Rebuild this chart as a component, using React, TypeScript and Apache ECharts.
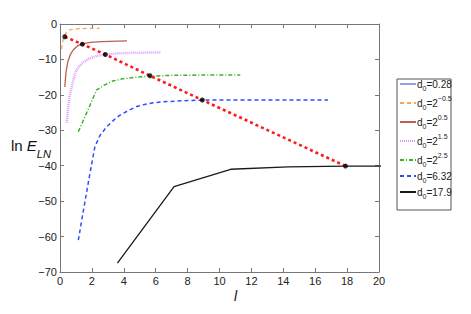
import React, { useEffect, useRef } from "react";
import * as echarts from "echarts";

const xTicks = { min: 0, max: 20, interval: 2 };
const yTicks = { min: -70, max: 0, interval: 10 };

const legendNames = ["0.28", "2^-0.5", "2^0.5", "2^1.5", "2^2.5", "6.32", "17.9"];

const d028: number[][] = [];
const dM05 = [[0.1, -7.1], [0.18, -4.8], [0.3, -3.0], [0.45, -2.1], [0.65, -1.6], [1.0, -1.35], [1.6, -1.25], [2.5, -1.2]];
const d05 = [[0.3, -17.8], [0.38, -13.5], [0.5, -10.5], [0.65, -8.6], [0.85, -7.2], [1.1, -6.2], [1.4, -5.6], [1.9, -5.2], [2.6, -4.95], [4.2, -4.75]];
const d15 = [[0.42, -27.9], [0.5, -24], [0.6, -20.5], [0.72, -18], [0.85, -15.5], [1.0, -13.4], [1.2, -12], [1.45, -10.8], [1.8, -9.8], [2.3, -9.0], [2.9, -8.55], [3.8, -8.25], [4.8, -8.1], [6.3, -8.05]];
const d25 = [[1.15, -30.4], [2.3, -18.6], [2.8, -17.2], [3.3, -16.1], [4.0, -15.4], [4.8, -15.0], [5.66, -14.7], [7.0, -14.5], [9, -14.4], [11.3, -14.4]];
const d632 = [[1.15, -61], [1.5, -51.8], [1.88, -42.1], [2.19, -34.6], [2.5, -31.5], [2.93, -29], [3.35, -27.2], [3.76, -25.7], [4.3, -24.4], [4.81, -23.3], [5.3, -22.7], [5.85, -22.2], [6.7, -21.9], [8.0, -21.6], [9, -21.45], [12, -21.45], [16.8, -21.45]];
const d179 = [[3.6, -67.5], [7.15, -45.9], [10.7, -41.0], [14.3, -40.3], [17.9, -40.1], [21.5, -40.1]];
const optimum = [[0.3, -3.6], [1.4, -5.7], [2.84, -8.6], [5.64, -14.6], [8.92, -21.45], [17.9, -40.1]];

const legendLabels: Record<string, string> = {
  "0.28": "{n|d}{sub|0}{n|=0.28}",
  "2^-0.5": "{n|d}{sub|0}{n|=2}{sup|\u22120.5}",
  "2^0.5": "{n|d}{sub|0}{n|=2}{sup|0.5}",
  "2^1.5": "{n|d}{sub|0}{n|=2}{sup|1.5}",
  "2^2.5": "{n|d}{sub|0}{n|=2}{sup|2.5}",
  "6.32": "{n|d}{sub|0}{n|=6.32}",
  "17.9": "{n|d}{sub|0}{n|=17.9}",
};

const FONT = "Liberation Sans, Arial, sans-serif";
const AXIS = "#777";

export default function App() {
  const ref = useRef<HTMLDivElement>(null);
  useEffect(() => {
    document.body.style.margin = "0";
    if (!ref.current) return;
    const chart = echarts.init(ref.current, null, { renderer: "svg" });
    const line = (name: string, data: number[][], color: string, width: number, type: any, z = 2) => ({
      name,
      type: "line",
      data,
      symbol: "none",
      z,
      lineStyle: { color, width, type },
      itemStyle: { color },
    });
    chart.setOption({
      animation: false,
      backgroundColor: "#fff",
      textStyle: { fontFamily: FONT },
      grid: { left: 60, right: 92, top: 24, bottom: 42 },
      xAxis: [
        {
          type: "value", ...xTicks,
          axisLine: { show: true, onZero: false, lineStyle: { color: AXIS } },
          axisTick: { show: true, inside: true, length: 4, lineStyle: { color: AXIS } },
          axisLabel: { color: "#222", fontSize: 11, margin: 3, fontFamily: FONT },
          splitLine: { show: false },
        },
        {
          type: "value", ...xTicks, position: "top",
          axisLine: { show: true, onZero: false, lineStyle: { color: AXIS } },
          axisTick: { show: true, inside: true, length: 4, lineStyle: { color: AXIS } },
          axisLabel: { show: false },
          splitLine: { show: false },
        },
      ],
      yAxis: [
        {
          type: "value", ...yTicks,
          axisLine: { show: true, onZero: false, lineStyle: { color: AXIS } },
          axisTick: { show: true, inside: true, length: 4, lineStyle: { color: AXIS } },
          axisLabel: {
            color: "#222", fontSize: 11, margin: 3, fontFamily: FONT,
            formatter: (v: number) => (v < 0 ? "\u2212" + Math.abs(v) : String(v)),
          },
          splitLine: { show: false },
        },
        {
          type: "value", ...yTicks, position: "right",
          axisLine: { show: true, onZero: false, lineStyle: { color: AXIS } },
          axisTick: { show: true, inside: true, length: 4, lineStyle: { color: AXIS } },
          axisLabel: { show: false },
          splitLine: { show: false },
        },
      ],
      legend: {
        data: legendNames,
        orient: "vertical",
        left: 399,
        top: 79,
        padding: [0, 0, 0, 0],
        itemWidth: 16,
        itemHeight: 10,
        itemGap: 3,
        selectedMode: false,
        itemStyle: { opacity: 0 },
        formatter: (name: string) => legendLabels[name],
        textStyle: {
          fontFamily: FONT,
          color: "#222",
          padding: [0, 0, 0, -4],
          rich: {
            n: { fontSize: 10, lineHeight: 16, fontFamily: FONT, color: "#222", verticalAlign: "middle" },
            sub: { fontSize: 7, lineHeight: 7, fontFamily: FONT, color: "#222", verticalAlign: "bottom" },
            sup: { fontSize: 7, lineHeight: 11, fontFamily: FONT, color: "#222", verticalAlign: "top" },
          },
        },
      },
      graphic: [
        {
          type: "rect",
          shape: { x: 397, y: 79, width: 54, height: 131 },
          style: { fill: "none", stroke: "#555", lineWidth: 1 },
          z: -1,
          silent: true,
        },
        {
          type: "text",
          left: 11,
          top: 138,
          style: {
            text: "{a|ln }{e|E}{s|LN}",
            rich: {
              a: { fontSize: 15, fontFamily: FONT, fill: "#111", verticalAlign: "bottom", lineHeight: 18 },
              e: { fontSize: 15, fontFamily: FONT, fontStyle: "italic", fill: "#111", verticalAlign: "bottom", lineHeight: 18 },
              s: { fontSize: 11, fontFamily: FONT, fontStyle: "italic", fill: "#111", verticalAlign: "bottom", lineHeight: 10, padding: [0, 0, -6, 0] },
            },
          },
        },
        {
          type: "text",
          left: 234,
          top: 289,
          style: { text: "l", fontSize: 14, fontStyle: "italic", fontFamily: FONT, fill: "#111" },
        },
      ],
      series: [
        line("0.28", d028, "#9a9de0", 1, "solid"),
        line("2^-0.5", dM05, "#f5a55f", 1.2, [4, 3]),
        line("2^0.5", d05, "#b8614e", 1.3, "solid"),
        line("2^1.5", d15, "#dc9cff", 2.5, [1, 1]),
        line("2^2.5", d25, "#3fae2c", 1.5, [4, 2, 1, 2]),
        line("6.32", d632, "#2f4dff", 1.5, [4, 3]),
        line("17.9", d179, "#1a1a1a", 1.3, "solid"),
        {
          name: "optimum",
          type: "line",
          data: optimum,
          symbol: "none",
          z: 5,
          lineStyle: { color: "#ff1a1a", width: 2.6, type: [3, 3] },
        },
        {
          name: "dots",
          type: "scatter",
          data: optimum,
          symbol: "circle",
          symbolSize: 5,
          z: 6,
          itemStyle: { color: "#000" },
        },
      ],
    });
    return () => chart.dispose();
  }, []);
  return <div ref={ref} style={{ width: 471, height: 314 }} />;
}
